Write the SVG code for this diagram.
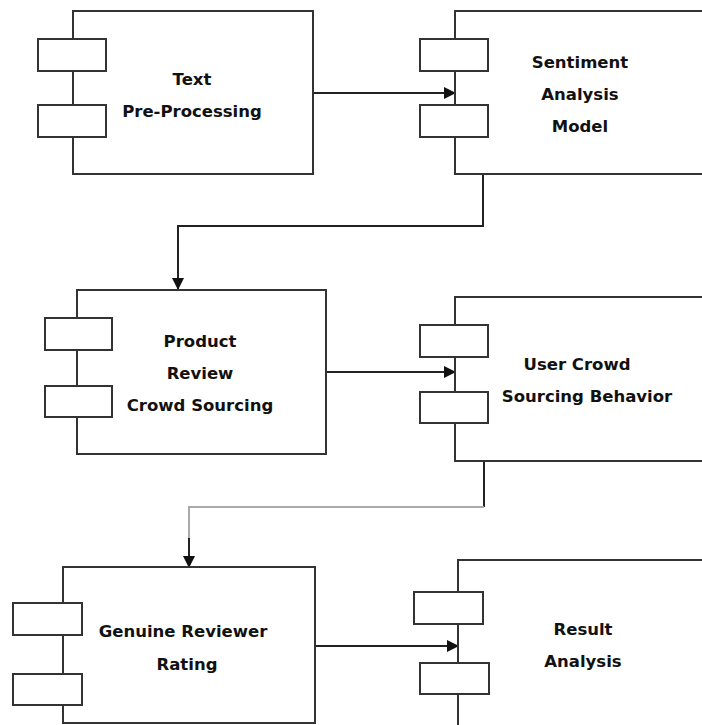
<svg xmlns="http://www.w3.org/2000/svg" width="702" height="725" viewBox="0 0 702 725">
<style>
.box{fill:#fff;stroke:#333;stroke-width:2}
.port{fill:#fff;stroke:#333;stroke-width:2}
.lbl{font-family:"DejaVu Sans",sans-serif;font-weight:bold;font-size:16.5px;fill:#111;text-anchor:middle}
.con{fill:none;stroke:#222;stroke-width:2}
.gray{fill:none;stroke:#aaa;stroke-width:2}
</style>
<defs>
<marker id="ah" markerUnits="userSpaceOnUse" markerWidth="12" markerHeight="12" refX="11" refY="6" orient="auto">
<path d="M0,0 L12,6 L0,12 Z" fill="#111"/>
</marker>
</defs>
<rect width="702" height="725" fill="#fff"/>
<g id="connectors">
<line class="con" x1="313" y1="93" x2="455" y2="93" marker-end="url(#ah)"/>
<polyline class="con" points="483,174 483,226 178,226 178,289" marker-end="url(#ah)"/>
<line class="con" x1="326" y1="372" x2="455" y2="372" marker-end="url(#ah)"/>
<line class="con" x1="484" y1="461" x2="484" y2="507"/>
<polyline class="gray" points="484,507 189,507 189,538"/>
<line class="con" x1="189" y1="538" x2="189" y2="567" marker-end="url(#ah)"/>
<line class="con" x1="315" y1="646" x2="458" y2="646" marker-end="url(#ah)"/>
</g>
<g id="text-preprocessing">
<rect class="box" x="73" y="11" width="240" height="163"/>
<rect class="port" x="38" y="39" width="68" height="32"/>
<rect class="port" x="38" y="105" width="68" height="32"/>
<text class="lbl" x="192" y="85">Text</text>
<text class="lbl" x="192" y="117">Pre-Processing</text>
</g>
<g id="sentiment-analysis-model">
<rect class="box" x="455" y="11" width="260" height="163"/>
<rect class="port" x="420" y="39" width="68" height="32"/>
<rect class="port" x="420" y="105" width="68" height="32"/>
<text class="lbl" x="580" y="68">Sentiment</text>
<text class="lbl" x="580" y="100">Analysis</text>
<text class="lbl" x="580" y="132">Model</text>
</g>
<g id="product-review-crowd-sourcing">
<rect class="box" x="77" y="290" width="249" height="164"/>
<rect class="port" x="45" y="318" width="67" height="32"/>
<rect class="port" x="45" y="386" width="67" height="31"/>
<text class="lbl" x="200" y="347">Product</text>
<text class="lbl" x="200" y="379">Review</text>
<text class="lbl" x="200" y="411">Crowd Sourcing</text>
</g>
<g id="user-crowd-sourcing-behavior">
<rect class="box" x="455" y="297" width="260" height="164"/>
<rect class="port" x="420" y="325" width="68" height="32"/>
<rect class="port" x="420" y="392" width="68" height="31"/>
<text class="lbl" x="577" y="370">User Crowd</text>
<text class="lbl" x="587" y="402">Sourcing Behavior</text>
</g>
<g id="genuine-reviewer-rating">
<rect class="box" x="63" y="567" width="252" height="156"/>
<rect class="port" x="13" y="603" width="69" height="32"/>
<rect class="port" x="13" y="674" width="69" height="31"/>
<text class="lbl" x="183" y="637">Genuine Reviewer</text>
<text class="lbl" x="187" y="670">Rating</text>
</g>
<g id="result-analysis">
<rect class="box" x="458" y="560" width="260" height="180"/>
<rect class="port" x="414" y="592" width="69" height="32"/>
<rect class="port" x="420" y="663" width="69" height="31"/>
<text class="lbl" x="583" y="635">Result</text>
<text class="lbl" x="583" y="667">Analysis</text>
</g>
</svg>
